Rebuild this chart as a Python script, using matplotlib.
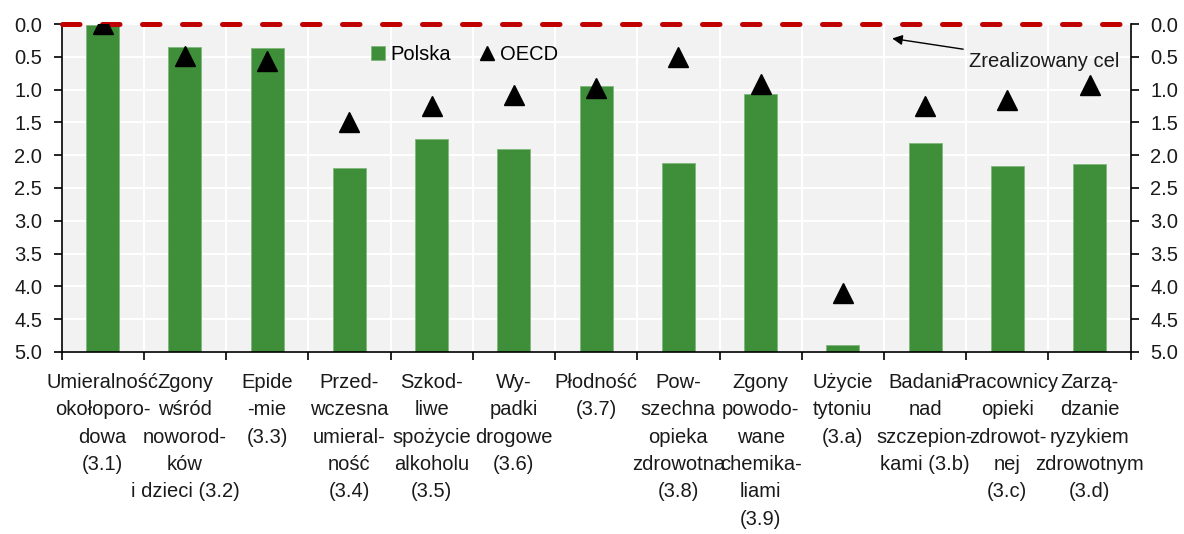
import matplotlib.pyplot as plt
import numpy as np

plt.rcParams['font.family'] = ['Liberation Sans', 'DejaVu Sans']

# categories (SDG 3 targets)
labels = ['Umieralność\nokołoporo-\ndowa\n(3.1)',
          'Zgony\nwśród\nnoworod-\nków\ni dzieci (3.2)',
          'Epide\n-mie\n(3.3)',
          'Przed-\nwczesna\numieral-\nność\n(3.4)',
          'Szkod-\nliwe\nspożycie\nalkoholu\n(3.5)',
          'Wy-\npadki\ndrogowe\n(3.6)',
          'Płodność\n(3.7)',
          'Pow-\nszechna\nopieka\nzdrowotna\n(3.8)',
          'Zgony\npowodo-\nwane\nchemika-\nliami\n(3.9)',
          'Użycie\ntytoniu\n(3.a)',
          'Badania\nnad\nszczepion-\nkami (3.b)',
          'Pracownicy\nopieki\nzdrowot-\nnej\n(3.c)',
          'Zarzą-\ndzanie\nryzykiem\nzdrowotnym\n(3.d)']

polska = [0.01, 0.35, 0.37, 2.19, 1.76, 1.91, 0.94, 2.12, 1.06, 4.89, 1.81, 2.17, 2.14]
oecd = [0.0, 0.49, 0.57, 1.49, 1.25, 1.08, 0.98, 0.51, 0.91, 4.10, 1.25, 1.16, 0.93]
target = 0.0
ymax = 5.0

green = '#3F8E3A'
red = '#C00000'
txt = '#1a1a1a'
fs = 14.5

fig = plt.figure(figsize=(11.84, 5.34), dpi=100)
ax = fig.add_axes([0.052, 0.341, 0.903, 0.614])
ax.set_facecolor('#F2F2F2')

x = np.arange(len(labels))
bars = ax.bar(x, [ymax - v for v in polska], bottom=polska, width=0.4, color=green,
              edgecolor='#7fb87a', linewidth=0.6, label='Polska', zorder=2)
tri, = ax.plot(x, oecd, linestyle='none', marker='^', markersize=14, color='black',
               label='OECD', zorder=4)
ax.plot([-0.5, len(labels) - 0.5], [target, target], color=red, linewidth=3.6,
        linestyle=(0, (3.5, 4.5)), dash_capstyle='round', zorder=3, clip_on=False)

ax.set_xlim(-0.5, len(labels) - 0.5)
ax.set_ylim(ymax, 0)
yt = np.arange(0, ymax + 0.01, 0.5)
ax.set_yticks(yt)
ax.set_yticklabels([f'{v:.1f}' for v in yt])

ax.set_xticks(np.arange(-0.5, len(labels), 1))
ax.set_xticklabels([])
ax.set_xticks(x, minor=True)
ax.set_xticklabels(labels, minor=True, fontsize=fs, color=txt, linespacing=1.56)
ax.tick_params(axis='x', which='minor', length=0, pad=15)
ax.tick_params(axis='x', which='major', length=6, width=1.2, direction='out')
ax.tick_params(axis='y', length=6, width=1.2, labelsize=fs, labelcolor=txt, pad=8)

ax.grid(True, which='major', color='white', linewidth=1.5, zorder=0)
ax.set_axisbelow(True)

for s in ['left', 'right', 'bottom']:
    ax.spines[s].set_linewidth(1.2)
ax.spines['top'].set_visible(False)

ax2 = ax.twinx()
ax2.set_ylim(ymax, 0)
ax2.set_yticks(yt)
ax2.set_yticklabels([f'{v:.1f}' for v in yt])
ax2.tick_params(axis='y', length=6, width=1.2, labelsize=fs, labelcolor=txt, pad=8)
for s in ['left', 'right', 'bottom', 'top']:
    ax2.spines[s].set_visible(False)

ax.legend(handles=[bars, tri], loc='upper left', bbox_to_anchor=(0.272, 0.99), ncol=2,
          frameon=False, fontsize=fs, handlelength=0.7, handletextpad=0.3,
          columnspacing=1.4, markerscale=0.75)

ax.annotate('Zrealizowany cel', xy=(9.6, 0.22), xytext=(10.53, 0.57),
            fontsize=fs, color=txt, va='center', ha='left',
            arrowprops=dict(arrowstyle='-|>', color='black', lw=1,
                            mutation_scale=15, shrinkA=2, shrinkB=0),
            zorder=5)

fig.savefig('out.png', dpi=100)
